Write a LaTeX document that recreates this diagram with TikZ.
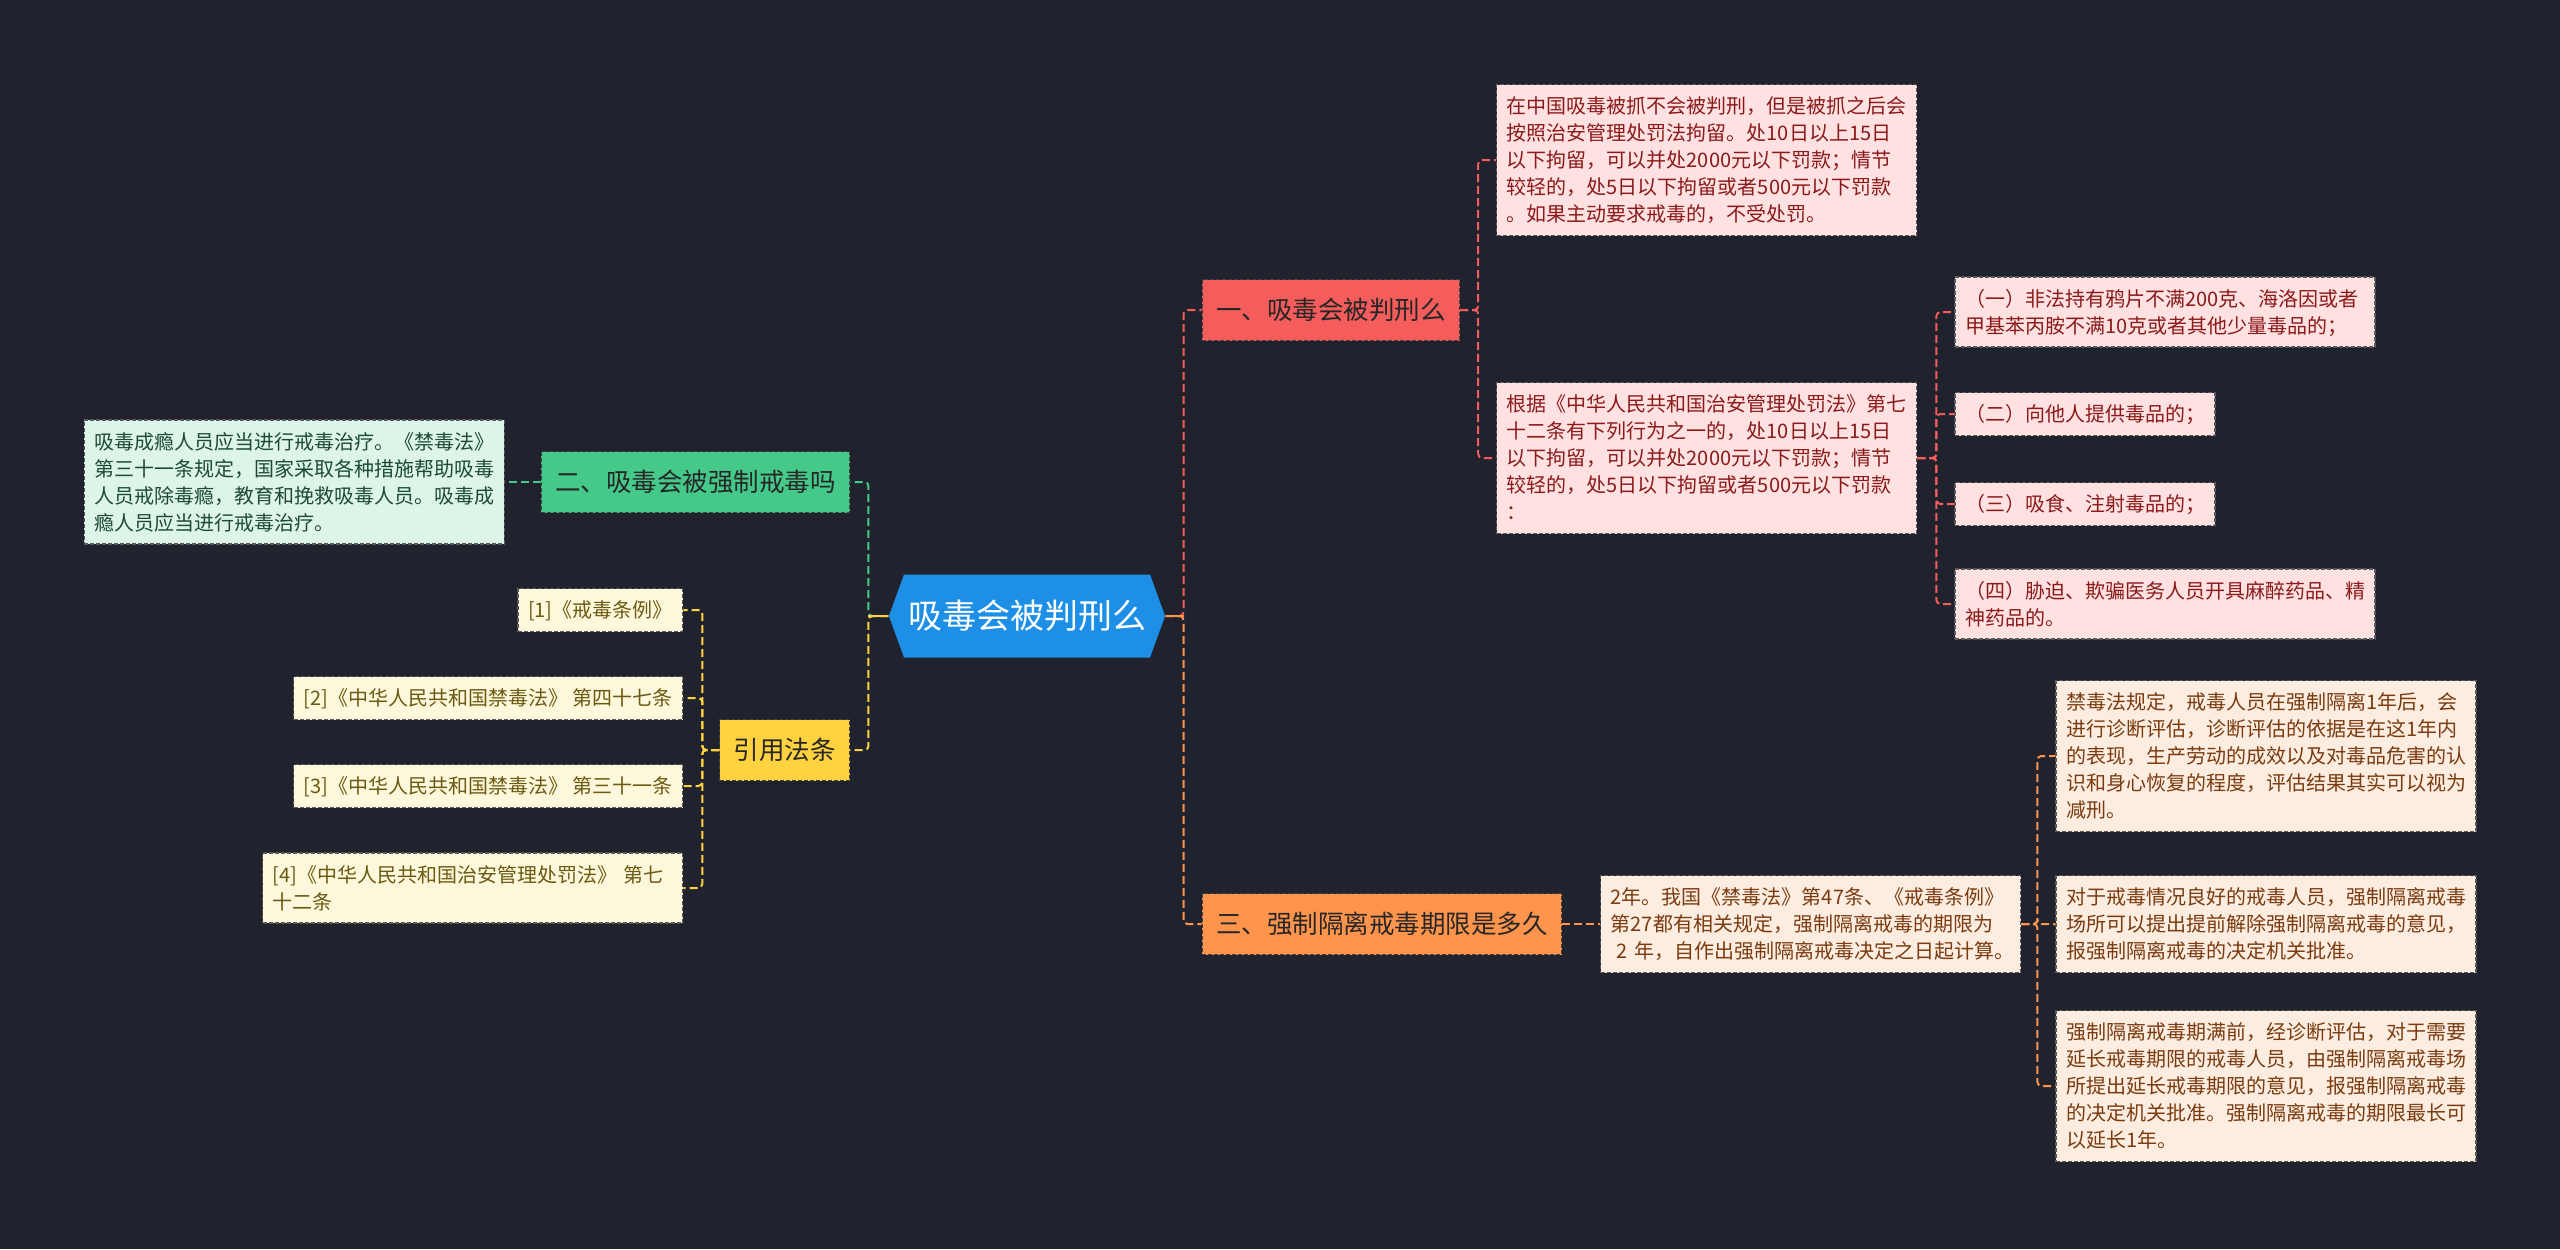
\documentclass[tikz,border=0pt]{standalone}
\usepackage{fontspec}
\newfontfamily\cjk{Noto Sans CJK SC}
\usepackage{tikz}
\usetikzlibrary{positioning,shapes.symbols}

\definecolor{bgnavy}{HTML}{20232E}
\definecolor{rootblue}{HTML}{1E8FE6}
\definecolor{topicred}{HTML}{F55C5C}
\definecolor{topicgreen}{HTML}{45C98A}
\definecolor{topicorange}{HTML}{FF944D}
\definecolor{topicyellow}{HTML}{FFD23F}
\definecolor{leafred}{HTML}{FFE1E1}
\definecolor{leafredtext}{HTML}{8B1A1A}
\definecolor{leafgreen}{HTML}{DDF5E9}
\definecolor{leafgreentext}{HTML}{1E4A35}
\definecolor{leaforange}{HTML}{FDEDE0}
\definecolor{leaforangetext}{HTML}{7A3B10}
\definecolor{leafyellow}{HTML}{FDF7DB}
\definecolor{leafyellowtext}{HTML}{6B5A12}

\newcommand\linestrut{\rule[-2.9pt]{0pt}{13.5pt}}

\tikzset{
	rootnode/.style={signal, signal to=west and east, signal pointer angle=140,
		fill=rootblue, text=white, font=\cjk\fontsize{17}{20}\selectfont,
		minimum width=137pt, minimum height=41.5pt, inner sep=2pt},
	topic/.style={fill=#1, draw=black!75, dash pattern=on 2pt off 1pt, line width=0.6pt,
		text=black!85, font=\cjk\fontsize{12.75}{15}\selectfont,
		inner xsep=7pt, minimum height=30.5pt},
	leaf/.style 2 args={fill=#1, text=#2, draw=black!65, dash pattern=on 2pt off 1pt,
		line width=0.6pt, font=\cjk\fontsize{10}{13.5}\selectfont, align=left,
		inner xsep=5pt, inner ysep=4pt,
		execute at begin node=\linestrut, execute at end node=\linestrut},
	wide/.style={text width=200pt},
	link/.style={draw=#1, line width=1pt, dash pattern=on 4pt off 2pt, rounded corners=2pt}
}

\begin{document}
\begin{tikzpicture}[x=0.5pt,y=-0.5pt]
	\fill[bgnavy] (0,0) rectangle (2560,1249);
	\useasboundingbox (0,0) rectangle (2560,1249);

	\node[rootnode] (root) at (1027,616) {吸毒会被判刑么};

	% right side
	\node[topic=topicred, right=18pt of root.east, yshift=153pt] (judge) {一、吸毒会被判刑么};
	\node[topic=topicorange, right=18pt of root.east, yshift=-154pt] (term) {三、强制隔离戒毒期限是多久};

	\node[leaf={leafred}{leafredtext}, wide, right=18pt of judge.east, yshift=75pt] (jail)
		{在中国吸毒被抓不会被判刑，但是被抓之后会\\按照治安管理处罚法拘留。处10日以上15日\\以下拘留，可以并处2000元以下罚款；情节\\较轻的，处5日以下拘留或者500元以下罚款\\。如果主动要求戒毒的，不受处罚。};
	\node[leaf={leafred}{leafredtext}, wide, right=18pt of judge.east, yshift=-74pt] (law72)
		{根据《中华人民共和国治安管理处罚法》第七\\十二条有下列行为之一的，处10日以上15日\\以下拘留，可以并处2000元以下罚款；情节\\较轻的，处5日以下拘留或者500元以下罚款\\：};

	\node[leaf={leafred}{leafredtext}, wide, right=18.5pt of law72.east, yshift=73pt] (act1)
		{（一）非法持有鸦片不满200克、海洛因或者\\甲基苯丙胺不满10克或者其他少量毒品的；};
	\node[leaf={leafred}{leafredtext}, right=18.5pt of law72.east, yshift=22pt] (act2)
		{（二）向他人提供毒品的；};
	\node[leaf={leafred}{leafredtext}, right=18.5pt of law72.east, yshift=-23pt] (act3)
		{（三）吸食、注射毒品的；};
	\node[leaf={leafred}{leafredtext}, wide, right=18.5pt of law72.east, yshift=-73pt] (act4)
		{（四）胁迫、欺骗医务人员开具麻醉药品、精\\神药品的。};

	\node[leaf={leaforange}{leaforangetext}, wide, right=19pt of term.east] (twoyear)
		{2年。我国《禁毒法》第47条、《戒毒条例》\\第27都有相关规定，强制隔离戒毒的期限为\\\hspace*{3pt}2~年，自作出强制隔离戒毒决定之日起计算。};

	\node[leaf={leaforange}{leaforangetext}, wide, right=17pt of twoyear.east, yshift=84pt] (eval)
		{禁毒法规定，戒毒人员在强制隔离1年后，会\\进行诊断评估，诊断评估的依据是在这1年内\\的表现，生产劳动的成效以及对毒品危害的认\\识和身心恢复的程度，评估结果其实可以视为\\减刑。};
	\node[leaf={leaforange}{leaforangetext}, wide, right=17pt of twoyear.east] (early)
		{对于戒毒情况良好的戒毒人员，强制隔离戒毒\\场所可以提出提前解除强制隔离戒毒的意见，\\报强制隔离戒毒的决定机关批准。};
	\node[leaf={leaforange}{leaforangetext}, wide, right=17pt of twoyear.east, yshift=-81pt] (extend)
		{强制隔离戒毒期满前，经诊断评估，对于需要\\延长戒毒期限的戒毒人员，由强制隔离戒毒场\\所提出延长戒毒期限的意见，报强制隔离戒毒\\的决定机关批准。强制隔离戒毒的期限最长可\\以延长1年。};

	% left side
	\node[topic=topicgreen, left=19pt of root.west, yshift=67pt] (forced) {二、吸毒会被强制戒毒吗};
	\node[topic=topicyellow, left=19pt of root.west, yshift=-67pt] (cite) {引用法条};

	\node[leaf={leafgreen}{leafgreentext}, wide, left=18pt of forced.west] (treat)
		{吸毒成瘾人员应当进行戒毒治疗。《禁毒法》\\第三十一条规定，国家采取各种措施帮助吸毒\\人员戒除毒瘾，教育和挽救吸毒人员。吸毒成\\瘾人员应当进行戒毒治疗。};

	\node[leaf={leafyellow}{leafyellowtext}, left=18pt of cite.west, yshift=70pt] (ref1)
		{[1]《戒毒条例》};
	\node[leaf={leafyellow}{leafyellowtext}, left=18pt of cite.west, yshift=26pt] (ref2)
		{[2]《中华人民共和国禁毒法》~第四十七条};
	\node[leaf={leafyellow}{leafyellowtext}, left=18pt of cite.west, yshift=-18pt] (ref3)
		{[3]《中华人民共和国禁毒法》~第三十一条};
	\node[leaf={leafyellow}{leafyellowtext}, wide, left=18pt of cite.west, yshift=-69pt] (ref4)
		{[4]《中华人民共和国治安管理处罚法》~第七\\十二条};

	% connectors
	\draw[link=topicred] (root.east) -- ++(9pt,0) |- (judge.west);
	\draw[link=topicorange] (root.east) -- ++(9pt,0) |- (term.west);
	\draw[link=topicgreen] (root.west) -- ++(-10pt,0) |- (forced.east);
	\draw[link=topicyellow] (root.west) -- ++(-10pt,0) |- (cite.east);
	\draw[topicorange, line width=1pt] (root.east) -- ++(9pt,0);
	\draw[topicyellow, line width=1pt] (root.west) -- ++(-10pt,0);

	\foreach \n in {jail,law72}
		\draw[link=topicred] (judge.east) -- ++(9pt,0) |- (\n.west);
	\foreach \n in {act1,act2,act3,act4}
		\draw[link=topicred] (law72.east) -- ++(9.5pt,0) |- (\n.west);
	\draw[link=topicorange] (term.east) -- (twoyear.west);
	\foreach \n in {eval,early,extend}
		\draw[link=topicorange] (twoyear.east) -- ++(8pt,0) |- (\n.west);
	\draw[link=topicgreen] (forced.west) -- (treat.east);
	\foreach \n in {ref1,ref2,ref3,ref4}
		\draw[link=topicyellow] (cite.west) -- ++(-8.5pt,0) |- (\n.east);
\end{tikzpicture}
\end{document}
